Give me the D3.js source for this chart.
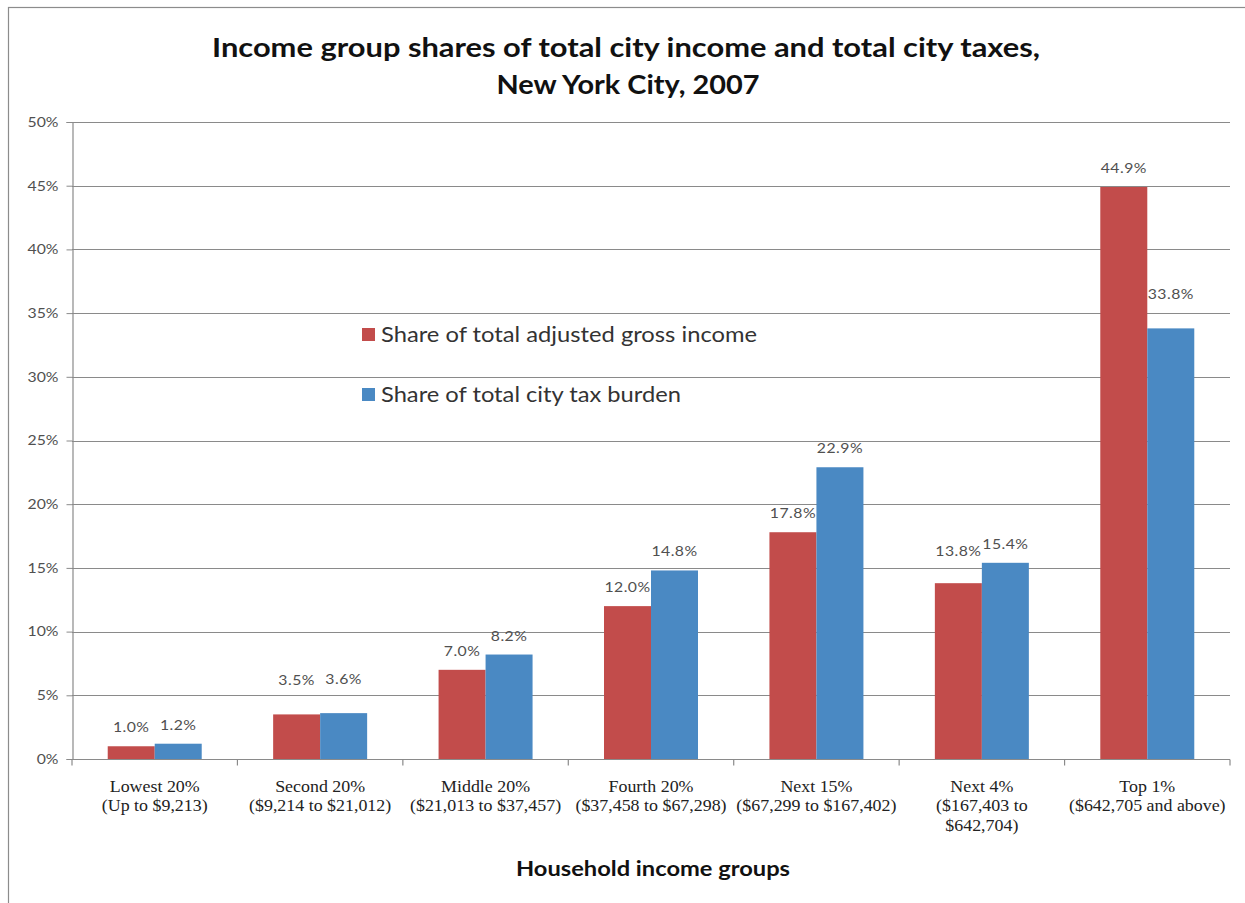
<!DOCTYPE html>
<html>
<head>
<meta charset="utf-8">
<script src="https://cdn.jsdelivr.net/npm/d3@7"></script>
<style>
  body { margin:0; background:#fff; }
  svg { display:block; }
</style>
</head>
<body>
<div id="chart"></div>
<script>
// data
const groups = ["Lowest 20%", "Second 20%", "Middle 20%", "Fourth 20%", "Next 15%", "Next 4%", "Top 1%"];
const ranges = [
  ["(Up to $9,213)"],
  ["($9,214 to $21,012)"],
  ["($21,013 to $37,457)"],
  ["($37,458 to $67,298)"],
  ["($67,299 to $167,402)"],
  ["($167,403 to", "$642,704)"],
  ["($642,705 and above)"]
];
const incomeShare = [1.0, 3.5, 7.0, 12.0, 17.8, 13.8, 44.9];
const taxShare    = [1.2, 3.6, 8.2, 14.8, 22.9, 15.4, 33.8];
const seriesNames = ["Share of total adjusted gross income", "Share of total city tax burden"];
const yTicks = [0, 5, 10, 15, 20, 25, 30, 35, 40, 45, 50];

// label nudges (px) where Excel pushed labels up out of the way
const labelNudge = {"3.5": 15, "3.6": 15, "13.8": 13, "33.8": 15};

const W = 1245, H = 903;
const margin = {top:122, left:72, right:15, bottom:144};
const colors = ["#C24C4B", "#4A89C3"];
const stretch = 1.17; // the source picture is a little wider than tall
const sans = "Lato, 'Open Sans', sans-serif";

const svg = d3.select("#chart").append("svg")
  .attr("width", W).attr("height", H);

// outer frame
svg.append("rect")
  .attr("x", 8.5).attr("y", 7.5).attr("width", W).attr("height", H)
  .attr("fill", "none").attr("stroke", "#8c8c8c").attr("stroke-width", 1.2);

const x = d3.scaleBand()
  .domain(groups)
  .range([margin.left, W - margin.right])
  .padding(0);

const y = d3.scaleLinear()
  .domain([0, 50])
  .range([H - margin.bottom, margin.top]);

const x1 = d3.scaleBand()
  .domain([0, 1])
  .range([0, x.bandwidth()])
  .paddingInner(0)
  .paddingOuter(0.76);

// gridlines
svg.append("g")
  .selectAll("line")
  .data(yTicks.filter(d => d > 0))
  .join("line")
    .attr("x1", margin.left).attr("x2", W - margin.right)
    .attr("y1", d => Math.round(y(d)) + 0.5).attr("y2", d => Math.round(y(d)) + 0.5)
    .attr("stroke", "#8a8a8a").attr("stroke-width", 1.2);

// y axis
const yAxis = svg.append("g")
  .attr("transform", `translate(${margin.left + 0.5},0)`)
  .call(d3.axisLeft(y).tickValues(yTicks).tickFormat(d => d + "%").tickSize(6).tickPadding(0));
yAxis.select(".domain").attr("stroke", "#8a8a8a").attr("stroke-width", 1.2);
yAxis.selectAll(".tick line").attr("stroke", "#8a8a8a");
yAxis.selectAll(".tick text")
  .attr("x", 0)
  .attr("transform", `translate(-14,0) scale(${stretch},1)`)
  .style("font-family", sans)
  .style("font-size", "13.5px").attr("fill", "#505050");

// bars
const rows = groups.map((g, i) => ({g, vals: [incomeShare[i], taxShare[i]]}));

const grp = svg.append("g").selectAll("g")
  .data(rows)
  .join("g")
    .attr("transform", d => `translate(${x(d.g)},0)`);

grp.selectAll("rect")
  .data(d => d.vals.map((v, k) => ({v, k})))
  .join("rect")
    .attr("x", d => x1(d.k))
    .attr("width", x1.bandwidth())
    .attr("y", d => y(d.v))
    .attr("height", d => y(0) - y(d.v))
    .attr("fill", d => colors[d.k]);

grp.selectAll("text")
  .data(d => d.vals.map((v, k) => ({v, k})))
  .join("text")
    .attr("transform", d => `translate(${x1(d.k) + x1.bandwidth() / 2},${y(d.v) - 14 - (labelNudge[d.v.toFixed(1)] || 0)}) scale(${stretch},1)`)
    .attr("text-anchor", "middle")
    .style("font-family", sans)
    .style("font-size", "13.5px")
    .style("letter-spacing", "0.4px")
    .attr("fill", "#505050")
    .text(d => d.v.toFixed(1) + "%");

// x axis
const xAxis = svg.append("g")
  .attr("transform", `translate(0,${y(0) + 0.5})`);
xAxis.append("line")
  .attr("x1", margin.left).attr("x2", W - margin.right)
  .attr("stroke", "#8a8a8a").attr("stroke-width", 1.2);
xAxis.selectAll("line.tk")
  .data(groups.concat([null]))
  .join("line")
    .attr("class", "tk")
    .attr("x1", d => d === null ? W - margin.right : x(d))
    .attr("x2", d => d === null ? W - margin.right : x(d))
    .attr("y1", 0).attr("y2", 6)
    .attr("stroke", "#8a8a8a").attr("stroke-width", 1.2);

const xl = xAxis.selectAll("text.xl")
  .data(rows.map((r, i) => [r.g].concat(ranges[i])))
  .join("text")
    .attr("class", "xl")
    .attr("text-anchor", "middle")
    .attr("transform", (d, i) => `translate(${x(groups[i]) + x.bandwidth() / 2},32) scale(1.12,1)`)
    .style("font-family", "'Liberation Serif', 'Times New Roman', serif")
    .style("font-size", "16px")
    .attr("fill", "#222");
xl.selectAll("tspan")
  .data(d => d)
  .join("tspan")
    .attr("x", 0)
    .attr("y", (d, i) => i * 20)
    .text(d => d);

// title
const title = svg.append("text")
  .attr("text-anchor", "middle")
  .style("font-family", sans)
  .style("font-weight", "bold")
  .style("font-size", "27px")
  .attr("fill", "#111");
title.append("tspan").attr("x", 626).attr("y", 57)
  .attr("textLength", 828).attr("lengthAdjust", "spacingAndGlyphs")
  .text("Income group shares of total city income and total city taxes,");
title.append("tspan").attr("x", 628).attr("y", 94)
  .attr("textLength", 263).attr("lengthAdjust", "spacingAndGlyphs")
  .text("New York City, 2007");

// axis title
svg.append("text")
  .attr("x", 653).attr("y", 876)
  .attr("text-anchor", "middle")
  .attr("textLength", 274).attr("lengthAdjust", "spacingAndGlyphs")
  .style("font-family", sans)
  .style("font-weight", "bold")
  .style("font-size", "20px")
  .attr("fill", "#111")
  .text("Household income groups");

// legend
const legend = svg.append("g").selectAll("g")
  .data(seriesNames)
  .join("g")
    .attr("transform", (d, i) => `translate(362,${335 + i * 60})`);
legend.append("rect")
  .attr("x", 0).attr("y", -7).attr("width", 13).attr("height", 13)
  .attr("fill", (d, i) => colors[i]);
legend.append("text")
  .attr("x", 19).attr("y", 7)
  .attr("textLength", (d, i) => [376, 300][i]).attr("lengthAdjust", "spacingAndGlyphs")
  .style("font-family", sans)
  .style("font-size", "21px")
  .attr("fill", "#333")
  .text(d => d);
</script>
</body>
</html>
